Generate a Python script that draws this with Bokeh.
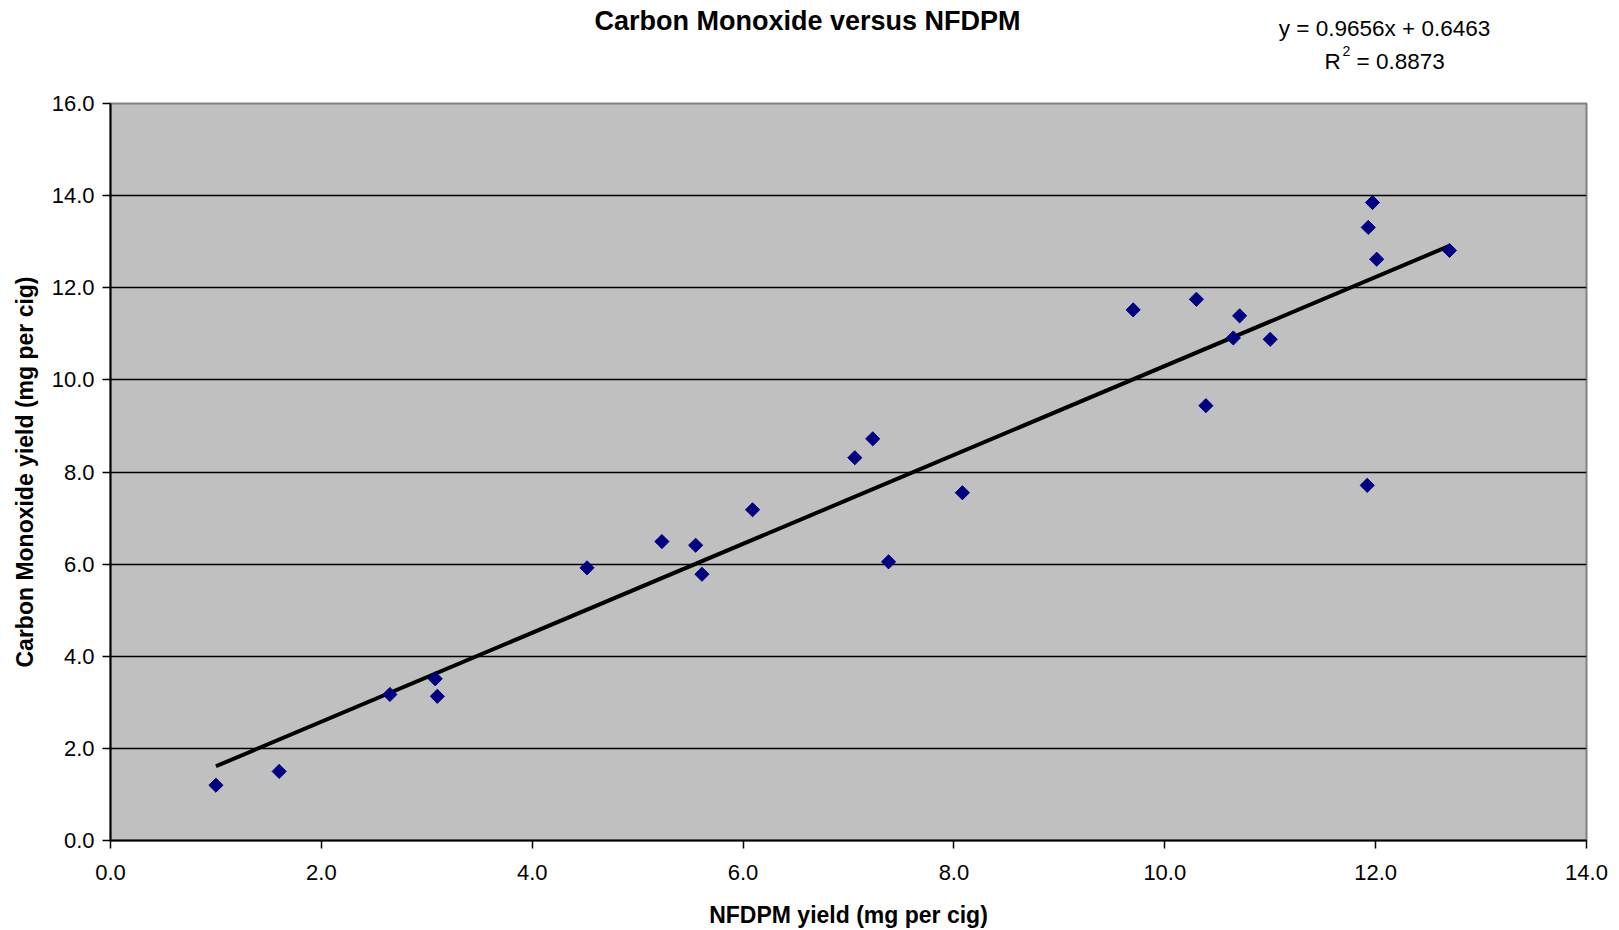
import math
from bokeh.plotting import figure
from bokeh.layouts import column
from bokeh.models import FixedTicker, PrintfTickFormatter, Range1d
from bokeh.core.properties import value
from bokeh.embed import file_html
from bokeh.resources import INLINE

# ---- data ----
nfdpm = [1.0, 1.6, 2.65, 3.08, 3.1, 4.52, 5.23, 5.55, 5.61, 6.09, 7.06, 7.23, 7.38,
         8.08, 9.7, 10.3, 10.39, 10.65, 10.71, 11.0, 11.92, 11.93, 11.97, 12.01, 12.7]
co = [1.2, 1.5, 3.17, 3.51, 3.13, 5.92, 6.49, 6.41, 5.78, 7.18, 8.31, 8.72, 6.05,
      7.55, 11.52, 11.75, 9.44, 10.91, 11.39, 10.88, 7.71, 13.31, 13.85, 12.62, 12.81]
slope = 0.9656
intercept = 0.6463
r_squared = 0.8873
x_ticks = [0, 2, 4, 6, 8, 10, 12, 14]
y_ticks = [0, 2, 4, 6, 8, 10, 12, 14, 16]
title_text = "Carbon Monoxide versus NFDPM"
x_title = "NFDPM yield (mg per cig)"
y_title = "Carbon Monoxide yield (mg per cig)"

FONT = "Liberation Sans"
W = 1619
TOP_H = 80
FRAME_L = 110
FRAME_R = 1586

# ---- header strip (title + trendline equation) ----
# its frame is aligned with the main chart's frame by the column layout
head = figure(width=W, height=TOP_H, x_range=Range1d(FRAME_L, FRAME_R),
              y_range=Range1d(TOP_H, 0),
              output_backend="svg", toolbar_location=None,
              x_axis_location=None, y_axis_location=None)
head.min_border_top = 0
head.min_border_bottom = 0
head.outline_line_color = None
head.grid.visible = False
head.background_fill_color = "white"
head.border_fill_color = "white"

head.text(x=[807], y=[20], text=[title_text], text_align="center",
          text_baseline="alphabetic", text_font=value(FONT), text_font_size="27px",
          text_font_style="bold", text_color="black")
head.text(x=[1384], y=[28], text=["y = %.4fx + %.4f" % (slope, intercept)],
          text_align="center", text_baseline="alphabetic", text_font=value(FONT),
          text_font_size="22.5px", text_color="black")
head.text(x=[1324], y=[61], text=["R"], text_align="left", text_baseline="alphabetic",
          text_font=value(FONT), text_font_size="22.5px", text_color="black")
head.text(x=[1342], y=[50], text=["2"], text_align="left", text_baseline="alphabetic",
          text_font=value(FONT), text_font_size="14px", text_color="black")
head.text(x=[1356], y=[61], text=["= %.4f" % r_squared], text_align="left",
          text_baseline="alphabetic", text_font=value(FONT), text_font_size="22.5px",
          text_color="black")

# ---- main chart ----
p = figure(width=W, height=930 - TOP_H, x_range=(0, 14), y_range=(0, 16),
           output_backend="svg", toolbar_location=None)
p.min_border_left = FRAME_L
p.min_border_right = W - FRAME_R
p.min_border_top = 103 - TOP_H
p.min_border_bottom = 90

p.background_fill_color = "#c0c0c0"
p.border_fill_color = "white"
p.outline_line_color = "#808080"
p.outline_line_width = 2

p.xgrid.grid_line_color = None
p.ygrid.grid_line_color = "black"
p.ygrid.grid_line_width = 1.3
p.ygrid.ticker = FixedTicker(ticks=y_ticks)

for ax in (p.xaxis[0], p.yaxis[0]):
    ax.axis_line_color = "black"
    ax.axis_line_width = 2
    ax.major_tick_line_color = "black"
    ax.major_tick_line_width = 1.5
    ax.major_tick_out = 8
    ax.major_tick_in = 0
    ax.minor_tick_line_color = None
    ax.major_label_text_font = FONT
    ax.major_label_text_font_size = "22px"
    ax.major_label_text_color = "black"
    ax.axis_label_text_font = FONT
    ax.axis_label_text_font_size = "23px"
    ax.axis_label_text_font_style = "bold"
    ax.axis_label_text_color = "black"
    ax.formatter = PrintfTickFormatter(format="%.1f")

p.xaxis[0].ticker = FixedTicker(ticks=x_ticks)
p.yaxis[0].ticker = FixedTicker(ticks=y_ticks)
p.xaxis[0].axis_label = x_title
p.yaxis[0].axis_label = y_title
p.xaxis[0].major_label_standoff = 16
p.yaxis[0].major_label_standoff = 8
p.xaxis[0].axis_label_standoff = 19
p.yaxis[0].axis_label_standoff = 11

# trendline (from the fitted equation over the data's x extent)
x0, x1 = min(nfdpm), max(nfdpm)
p.line([x0, x1], [slope * x0 + intercept, slope * x1 + intercept],
       line_color="black", line_width=4)

# points (diamonds)
p.scatter(nfdpm, co, marker="square", angle=math.pi / 4, size=10,
          fill_color="#000080", line_color="#000080")

layout = column(head, p, spacing=0)
open("out.html", "w").write(file_html(layout, INLINE))
